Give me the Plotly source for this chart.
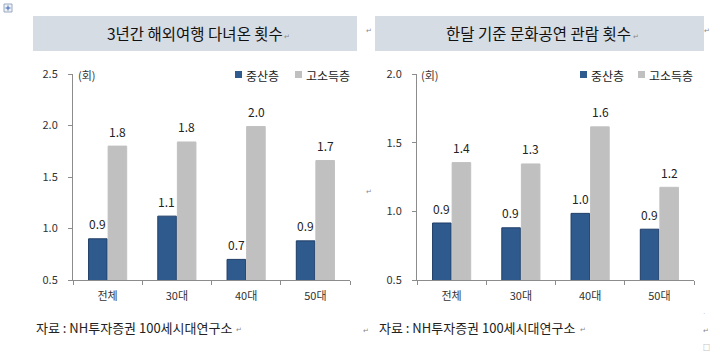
import plotly.graph_objects as go

# ---------------- data ----------------
categories = ["전체", "30대", "40대", "50대"]
series_names = ["중산층", "고소득층"]
travel_mid = [0.90, 1.12, 0.70, 0.88]
travel_high = [1.80, 1.84, 1.99, 1.66]
culture_mid = [0.915, 0.88, 0.985, 0.87]
culture_high = [1.355, 1.345, 1.615, 1.175]
travel_ticks = [0.5, 1.0, 1.5, 2.0, 2.5]
culture_ticks = [0.5, 1.0, 1.5, 2.0]
title_left = "3년간 해외여행 다녀온 횟수"
title_right = "한달 기준 문화공연 관람 횟수"
unit_label = "(회)"
source_text = "자료 : NH투자증권 100세시대연구소"

# ---------------- style ----------------
W, H = 720, 354
FONT = "Noto Sans CJK KR"
NAVY = "#2e5a8e"
NAVY_EDGE = "#1f3d66"
GRAY = "#c0c0c0"
AXIS = "#8c8c8c"
TXT = "#333333"
BOX = "#d6dce4"


def px(x):
    return x / W


def py(y):
    return 1 - y / H


def note(x, y, text, size=12, color="#222", xanchor="center"):
    return dict(x=px(x), y=py(y), xref="paper", yref="paper", text=text,
                showarrow=False, xanchor=xanchor, yanchor="middle",
                font=dict(family=FONT, size=size, color=color))


fig = go.Figure()

panels = [
    dict(mid=travel_mid, high=travel_high, xa="x", ya="y", ticks=travel_ticks,
         rng=[0.5, 2.5], dom_x=[px(73), px(350)]),
    dict(mid=culture_mid, high=culture_high, xa="x2", ya="y2", ticks=culture_ticks,
         rng=[0.5, 2.0], dom_x=[px(417), px(694)]),
]

annotations = []
for p in panels:
    fig.add_trace(go.Bar(x=categories, y=p["mid"], name=series_names[0],
                         xaxis=p["xa"], yaxis=p["ya"], marker_color=NAVY,
                         marker_line=dict(color=NAVY_EDGE, width=1),
                         showlegend=False, hoverinfo="skip"))
    fig.add_trace(go.Bar(x=categories, y=p["high"], name=series_names[1],
                         xaxis=p["xa"], yaxis=p["ya"], marker_color=GRAY,
                         marker_line=dict(color=GRAY, width=1),
                         showlegend=False, hoverinfo="skip"))
    for vals, shift in ((p["mid"], -10), (p["high"], 10)):
        for c, v in zip(categories, vals):
            annotations.append(dict(x=c, y=v, xref=p["xa"], yref=p["ya"],
                                    text=f"{v:.1f}", showarrow=False,
                                    xshift=shift, yshift=15, xanchor="center",
                                    yanchor="middle",
                                    font=dict(family=FONT, size=12, color="#222")))

y_dom = [py(280), py(74)]
axis_common = dict(showgrid=False, zeroline=False, linecolor=AXIS, linewidth=1,
                   ticks="outside", tickcolor=AXIS, ticklen=4, automargin=False,
                   tickfont=dict(family=FONT, size=11, color=TXT))

fig.update_layout(
    xaxis=dict(domain=panels[0]["dom_x"], anchor="y", tickson="boundaries",
               showline=True, ticklabelstandoff=6, **axis_common),
    xaxis2=dict(domain=panels[1]["dom_x"], anchor="y2", tickson="boundaries",
                showline=True, ticklabelstandoff=6, **axis_common),
    yaxis=dict(domain=y_dom, anchor="x", range=panels[0]["rng"],
               tickvals=panels[0]["ticks"], tickformat=".1f", showline=True,
               ticklabelstandoff=8, **axis_common),
    yaxis2=dict(domain=y_dom, anchor="x2", range=panels[1]["rng"],
                tickvals=panels[1]["ticks"], tickformat=".1f", showline=True,
                ticklabelstandoff=8, **axis_common),
    barmode="group", bargap=0.435, bargroupgap=0.05,
    width=W, height=H, margin=dict(l=0, r=0, t=0, b=0, pad=0, autoexpand=False),
    showlegend=False,
    plot_bgcolor="white", paper_bgcolor="white",
    font=dict(family=FONT, color=TXT),
)

shapes = [
    dict(type="rect", xref="paper", yref="paper", x0=px(33), x1=px(357),
         y0=py(51), y1=py(16), fillcolor=BOX, line=dict(width=0), layer="below"),
    dict(type="rect", xref="paper", yref="paper", x0=px(375), x1=px(704),
         y0=py(51), y1=py(16), fillcolor=BOX, line=dict(width=0), layer="below"),
    dict(type="rect", xref="paper", yref="paper", x0=px(4), x1=px(12),
         y0=py(12), y1=py(4), fillcolor="#eef2f8", line=dict(color="#9aa8c0", width=1)),
    dict(type="line", xref="paper", yref="paper", x0=px(8), x1=px(8),
         y0=py(10.5), y1=py(5.5), line=dict(color="#3a66b0", width=1)),
    dict(type="line", xref="paper", yref="paper", x0=px(5.5), x1=px(10.5),
         y0=py(8), y1=py(8), line=dict(color="#3a66b0", width=1)),
]

annotations += [
    note(195, 33, title_left, size=15.5, color="#111"),
    note(538, 33, title_right, size=15.5, color="#111"),
    note(76, 75, unit_label, size=11, color=TXT, xanchor="left"),
    note(419, 75, unit_label, size=11, color=TXT, xanchor="left"),
    note(34, 327, source_text, size=13, xanchor="left"),
    note(377, 327, source_text, size=13, xanchor="left"),
]

for x_sq1, x_sq2 in ((235, 295), (580, 638)):
    for xs, col, name in ((x_sq1, NAVY, series_names[0]), (x_sq2, GRAY, series_names[1])):
        shapes.append(dict(type="rect", xref="paper", yref="paper",
                           x0=px(xs), x1=px(xs + 7), y0=py(78), y1=py(71),
                           fillcolor=col, line=dict(width=0)))
        annotations.append(note(xs + 9, 75, name, size=12, xanchor="left"))

for x_, y_ in ((287, 36), (636, 36), (369, 30), (707, 30), (369, 191),
               (239, 329), (366, 330), (583, 329), (706, 330)):
    annotations.append(note(x_, y_, "↵", size=7, color="#888"))
annotations.append(note(706, 347, "□", size=7, color="#888"))
annotations.append(note(704, 314, "ˈ", size=7, color="#888"))

fig.update_layout(shapes=shapes, annotations=annotations)
fig.write_html("out.html")
